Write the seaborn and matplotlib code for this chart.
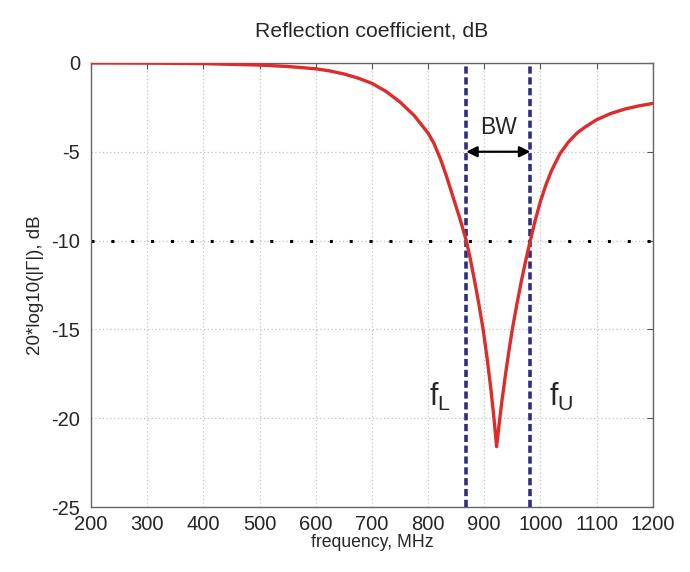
import matplotlib
matplotlib.use("Agg")
import matplotlib.pyplot as plt
import seaborn as sns
import pandas as pd

# Data
freq_mhz = [200, 300, 400, 500, 550, 600, 625, 650, 675, 700, 725, 750, 775, 800,
            810, 822, 833, 845, 857, 868, 875, 883, 890, 898, 905, 912, 917, 922,
            927, 932, 938, 944, 950, 958, 966, 974, 982, 990, 1000, 1010, 1020,
            1035, 1050, 1065, 1080, 1100, 1125, 1150, 1175, 1200]
refl_db = [0.0, -0.01, -0.04, -0.12, -0.2, -0.33, -0.45, -0.62, -0.85, -1.15, -1.6,
           -2.2, -2.95, -3.95, -4.5, -5.4, -6.4, -7.6, -8.8, -10.0, -11.0, -12.3,
           -13.5, -15.0, -16.6, -18.4, -19.9, -21.6, -20.2, -18.9, -17.5, -16.2,
           -15.0, -13.6, -12.3, -11.1, -10.0, -8.95, -7.8, -6.85, -6.05, -5.1,
           -4.45, -3.95, -3.6, -3.2, -2.85, -2.6, -2.42, -2.28]
f_lower = 868
f_upper = 982
threshold_db = -10
bw_level_db = -5
x_ticks = [200, 300, 400, 500, 600, 700, 800, 900, 1000, 1100, 1200]
y_ticks = [-25, -20, -15, -10, -5, 0]

df = pd.DataFrame({"freq": freq_mhz, "db": refl_db})

sns.set_theme(style="white")
plt.rcParams['font.family'] = ['Liberation Sans', 'DejaVu Sans']
plt.rcParams['axes.unicode_minus'] = False
plt.rcParams['mathtext.fontset'] = 'custom'
plt.rcParams['mathtext.rm'] = 'Liberation Sans'
plt.rcParams['mathtext.it'] = 'Liberation Sans'

fig = plt.figure(figsize=(6.9, 5.72), dpi=100)
ax = fig.add_axes([0.132, 0.1136, 0.814, 0.7764])

ax.grid(True, color="#c4c4c4", linestyle=(0, (1, 2)), linewidth=0.9)

ax.axhline(threshold_db, color="black", linewidth=2.2, linestyle=(0, (1, 5.5)), zorder=2)
for fx in (f_lower, f_upper):
    ax.axvline(fx, color="#2e2e86", linewidth=2.6, linestyle=(0, (2, 1)), zorder=3)

sns.lineplot(data=df, x="freq", y="db", ax=ax, color="#dc2c2c", linewidth=2.4, zorder=4)

ax.annotate("", xy=(f_lower, bw_level_db), xytext=(f_upper, bw_level_db),
            arrowprops=dict(arrowstyle="<|-|>", color="black", lw=1.6,
                            mutation_scale=16, shrinkA=0, shrinkB=0), zorder=5)
ax.text((f_lower + f_upper) / 2, -3.65, "BW", ha="center", va="center", fontsize=16.5)
ax.text(821, -18.8, r"$\mathregular{f_L}$", ha="center", va="center", fontsize=22)
ax.text(1037, -18.8, r"$\mathregular{f_U}$", ha="center", va="center", fontsize=22)

ax.set_xlim(200, 1200)
ax.set_ylim(-25, 0)
ax.set_xticks(x_ticks)
ax.set_yticks(y_ticks)
ax.tick_params(direction="in", length=4, width=0.8, color="#555555",
               labelsize=14.5, top=True, right=True)
ax.tick_params(axis="x", pad=6)
ax.tick_params(axis="y", pad=8)
for s in ax.spines.values():
    s.set_color("#666666")
    s.set_linewidth(1.0)

ax.set_title("Reflection coefficient, dB", fontsize=15.3, pad=19)
ax.set_xlabel("frequency, MHz", fontsize=12.7, labelpad=0)
ax.set_ylabel("20*log10(|Γ|), dB", fontsize=13.5, labelpad=5)

fig.savefig("out.png", dpi=100)
